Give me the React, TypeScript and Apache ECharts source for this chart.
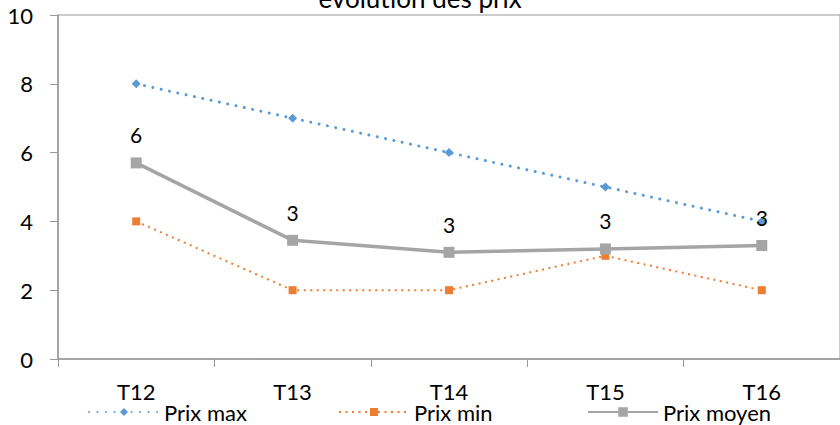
import React, { useEffect, useRef } from "react";
import * as echarts from "echarts";

const categories = ["T12", "T13", "T14", "T15", "T16"];
const prixMax = [8, 7, 6, 5, 4];
const prixMin = [4, 2, 2, 3, 2];
const prixMoyen = [5.7, 3.45, 3.1, 3.2, 3.3];
const yTicks = { min: 0, max: 10, interval: 2 };
const titleText = "évolution des prix";

const FONT = "Lato, 'Liberation Sans', sans-serif";

export default function App() {
  const ref = useRef<HTMLDivElement>(null);
  useEffect(() => {
    if (!ref.current) return;
    const chart = echarts.init(ref.current, undefined, { renderer: "svg" });
    const legendText = { fontSize: 22, color: "#000", fontFamily: FONT };
    chart.setOption({
      animation: false,
      textStyle: { fontFamily: FONT },
      title: {
        text: titleText,
        left: "center",
        top: -20,
        textStyle: { fontSize: 26, fontWeight: "normal", color: "#000", fontFamily: FONT },
      },
      legend: [
        { data: ["Prix max"], left: 83, top: 396, itemWidth: 70, itemHeight: 10, textStyle: legendText },
        { data: ["Prix min"], left: 333, top: 396, itemWidth: 70, itemHeight: 10, textStyle: legendText },
        { data: ["Prix moyen"], left: 582, top: 396, itemWidth: 70, itemHeight: 12, textStyle: legendText },
      ],
      grid: {
        left: 58,
        top: 15,
        right: -6,
        bottom: 66,
        show: true,
        borderColor: "#999",
        borderWidth: 1,
        containLabel: false,
      },
      xAxis: {
        type: "category",
        data: categories,
        boundaryGap: true,
        axisLine: { lineStyle: { color: "#999", width: 1.5 } },
        axisTick: { show: true, length: 8, lineStyle: { color: "#999" } },
        axisLabel: { fontSize: 22, color: "#000", margin: 21, fontFamily: FONT },
      },
      yAxis: {
        type: "value",
        min: yTicks.min,
        max: yTicks.max,
        interval: yTicks.interval,
        splitLine: { show: false },
        axisLine: { show: true, lineStyle: { color: "#999", width: 1.5 } },
        axisTick: { show: true, length: 8, lineStyle: { color: "#999" } },
        axisLabel: { fontSize: 22, color: "#000", margin: 25, fontFamily: FONT },
      },
      series: [
        {
          name: "Prix max",
          type: "line",
          data: prixMax,
          symbol: "diamond",
          symbolSize: 9,
          itemStyle: { color: "#5B9BD5" },
          lineStyle: { color: "#5B9BD5", width: 3, type: [0.01, 8.5], cap: "round" },
        },
        {
          name: "Prix min",
          type: "line",
          data: prixMin,
          symbol: "rect",
          symbolSize: 8,
          itemStyle: { color: "#ED7D31" },
          lineStyle: { color: "#ED7D31", width: 2, type: [2, 4.5] },
        },
        {
          name: "Prix moyen",
          type: "line",
          data: prixMoyen,
          symbol: "rect",
          symbolSize: 11,
          itemStyle: { color: "#A5A5A5" },
          lineStyle: { color: "#A5A5A5", width: 3.5 },
          label: {
            show: true,
            position: "top",
            distance: 12,
            fontSize: 21,
            color: "#000",
            fontFamily: FONT,
            formatter: (p: any) => String(Math.round(p.value)),
          },
        },
      ],
    });
    return () => chart.dispose();
  }, []);
  return <div ref={ref} style={{ width: 840, height: 425, position: "absolute", left: 0, top: 0 }} />;
}
